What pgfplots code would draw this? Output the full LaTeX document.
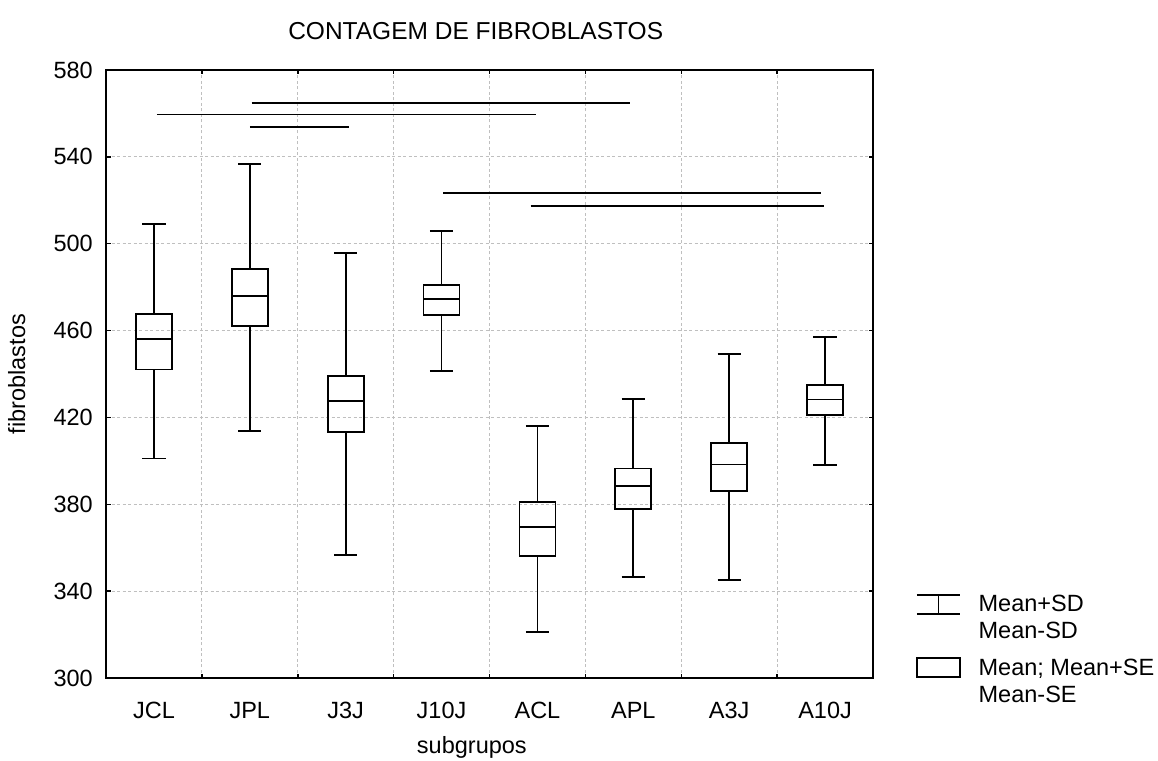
\documentclass[border=0pt]{standalone}
\usepackage{fontspec}
\setmainfont{Liberation Sans}
\usepackage{pgfplots}
\pgfplotsset{compat=1.18}
\begin{document}
\fontsize{23.5}{27}\selectfont
\begin{tikzpicture}
\useasboundingbox (0pt,0pt) rectangle (1158pt,760pt);
\begin{axis}[
  at={(106pt,82pt)}, anchor=south west,
  width=767pt, height=608pt, scale only axis,
  xmin=-0.5, xmax=7.5, ymin=300, ymax=580,
  ytick={300,340,...,580},
  xtick={0.5,1.5,...,6.5},
  xticklabels={},
  extra x ticks={0,1,2,3,4,5,6,7},
  extra x tick labels={JCL,JPL,J3J,J10J,ACL,APL,A3J,A10J},
  extra x tick style={grid=none, tick style={draw=none},
     xticklabel style={anchor=base, inner sep=0pt, yshift=-40pt}},
  xmajorgrids=true, ymajorgrids=true,
  grid style={gray!50, line width=1pt, dash pattern=on 3pt off 2.5pt},
  major tick length=4.5pt,
  tick align=inside,
  tick style={black, line width=1.5pt},
  axis line style={line width=1.8pt},
  /pgf/number format/assume math mode=true,
  yticklabel style={anchor=east, inner sep=0pt, xshift=-13pt},
  title={CONTAGEM DE FIBROBLASTOS},
  title style={at={(axis description cs:0.482,1.0395)}, anchor=base, inner sep=0pt, font=\fontsize{24.5}{28}\selectfont},
  xlabel={subgrupos},
  xlabel style={at={(axis description cs:0.477,-0.1245)}, anchor=base, inner sep=0pt},
  ylabel={fibroblastos},
  ylabel style={at={(axis description cs:-0.1056,0.5)}, anchor=base, inner sep=0pt},
  legend style={at={(axis description cs:1.056,0.140)}, anchor=north west,
     draw=none, fill=none, inner sep=0pt, row sep=41pt,
     nodes={inner sep=0pt},
     /tikz/every odd column/.append style={column sep=18pt}},
  legend cell align=left,
  unbounded coords=jump,
]
% significance lines
\addplot[black, line width=1.8pt, forget plot] coordinates {(1.02,564.7) (4.97,564.7)};
\addplot[black, line width=1.8pt, forget plot] coordinates {(0.03,559.5) (3.98,559.5)};
\addplot[black, line width=1.8pt, forget plot] coordinates {(1.0,553.6) (2.03,553.6)};
\addplot[black, line width=1.8pt, forget plot] coordinates {(3.02,523.4) (6.96,523.4)};
\addplot[black, line width=1.8pt, forget plot] coordinates {(3.93,517.5) (6.99,517.5)};
% boxes: mean +- SE (box), mean (line), mean +- SD (whiskers)
% JCL: SD 401.1/508.9, SE 442.1/467.8, mean 456.2
\addplot[black, line width=1.8pt, forget plot] coordinates {
(-0.1215,508.9) (0.1215,508.9) (nan,nan)
(0,508.9) (0,467.8) (nan,nan)
(0,467.8) (0.1875,467.8) (0.1875,442.1) (-0.1875,442.1) (-0.1875,467.8) (0,467.8) (nan,nan)
(-0.1875,456.2) (0.1875,456.2) (nan,nan)
(0,442.1) (0,401.1) (nan,nan)
(-0.1215,401.1) (0.1215,401.1)};
% JPL: SD 413.7/536.6, SE 462.0/488.4, mean 476.0
\addplot[black, line width=1.8pt, forget plot] coordinates {
(0.8785,536.6) (1.1215,536.6) (nan,nan)
(1,536.6) (1,488.4) (nan,nan)
(1,488.4) (1.1875,488.4) (1.1875,462.0) (0.8125,462.0) (0.8125,488.4) (1,488.4) (nan,nan)
(0.8125,476.0) (1.1875,476.0) (nan,nan)
(1,462.0) (1,413.7) (nan,nan)
(0.8785,413.7) (1.1215,413.7)};
% J3J: SD 356.7/495.6, SE 413.3/438.9, mean 427.4
\addplot[black, line width=1.8pt, forget plot] coordinates {
(1.8785,495.6) (2.1215,495.6) (nan,nan)
(2,495.6) (2,438.9) (nan,nan)
(2,438.9) (2.1875,438.9) (2.1875,413.3) (1.8125,413.3) (1.8125,438.9) (2,438.9) (nan,nan)
(1.8125,427.4) (2.1875,427.4) (nan,nan)
(2,413.3) (2,356.7) (nan,nan)
(1.8785,356.7) (2.1215,356.7)};
% J10J: SD 441.4/506.0, SE 467.0/480.9, mean 474.4
\addplot[black, line width=1.8pt, forget plot] coordinates {
(2.8785,506.0) (3.1215,506.0) (nan,nan)
(3,506.0) (3,480.9) (nan,nan)
(3,480.9) (3.1875,480.9) (3.1875,467.0) (2.8125,467.0) (2.8125,480.9) (3,480.9) (nan,nan)
(2.8125,474.4) (3.1875,474.4) (nan,nan)
(3,467.0) (3,441.4) (nan,nan)
(2.8785,441.4) (3.1215,441.4)};
% ACL: SD 321.1/416.0, SE 356.2/380.9, mean 369.5
\addplot[black, line width=1.8pt, forget plot] coordinates {
(3.8785,416.0) (4.1215,416.0) (nan,nan)
(4,416.0) (4,380.9) (nan,nan)
(4,380.9) (4.1875,380.9) (4.1875,356.2) (3.8125,356.2) (3.8125,380.9) (4,380.9) (nan,nan)
(3.8125,369.5) (4.1875,369.5) (nan,nan)
(4,356.2) (4,321.1) (nan,nan)
(3.8785,321.1) (4.1215,321.1)};
% APL: SD 346.6/428.5, SE 377.7/396.5, mean 388.3
\addplot[black, line width=1.8pt, forget plot] coordinates {
(4.8785,428.5) (5.1215,428.5) (nan,nan)
(5,428.5) (5,396.5) (nan,nan)
(5,396.5) (5.1875,396.5) (5.1875,377.7) (4.8125,377.7) (4.8125,396.5) (5,396.5) (nan,nan)
(4.8125,388.3) (5.1875,388.3) (nan,nan)
(5,377.7) (5,346.6) (nan,nan)
(4.8785,346.6) (5.1215,346.6)};
% A3J: SD 345.1/449.3, SE 386.0/408.3, mean 398.3
\addplot[black, line width=1.8pt, forget plot] coordinates {
(5.8785,449.3) (6.1215,449.3) (nan,nan)
(6,449.3) (6,408.3) (nan,nan)
(6,408.3) (6.1875,408.3) (6.1875,386.0) (5.8125,386.0) (5.8125,408.3) (6,408.3) (nan,nan)
(5.8125,398.3) (6.1875,398.3) (nan,nan)
(6,386.0) (6,345.1) (nan,nan)
(5.8785,345.1) (6.1215,345.1)};
% A10J: SD 398.0/456.9, SE 421.1/434.9, mean 428.3
\addplot[black, line width=1.8pt, forget plot] coordinates {
(6.8785,456.9) (7.1215,456.9) (nan,nan)
(7,456.9) (7,434.9) (nan,nan)
(7,434.9) (7.1875,434.9) (7.1875,421.1) (6.8125,421.1) (6.8125,434.9) (7,434.9) (nan,nan)
(6.8125,428.3) (7.1875,428.3) (nan,nan)
(7,421.1) (7,398.0) (nan,nan)
(6.8785,398.0) (7.1215,398.0)};
% legend
\addlegendimage{legend image code/.code={\draw[black, line width=1.5pt] (0pt,9.5pt) -- (43pt,9.5pt) (0pt,-9.5pt) -- (43pt,-9.5pt) (21.5pt,-9.5pt) -- (21.5pt,9.5pt);}}
\addlegendentry{\begin{tabular}[t]{@{}l@{}}Mean+SD\\Mean-SD\end{tabular}}
\addlegendimage{legend image code/.code={\draw[black, line width=1.5pt] (0pt,-9.5pt) rectangle (43pt,9.5pt);}}
\addlegendentry{\begin{tabular}[t]{@{}l@{}}Mean; Mean+SE\\Mean-SE\end{tabular}}
\end{axis}
\end{tikzpicture}
\end{document}
